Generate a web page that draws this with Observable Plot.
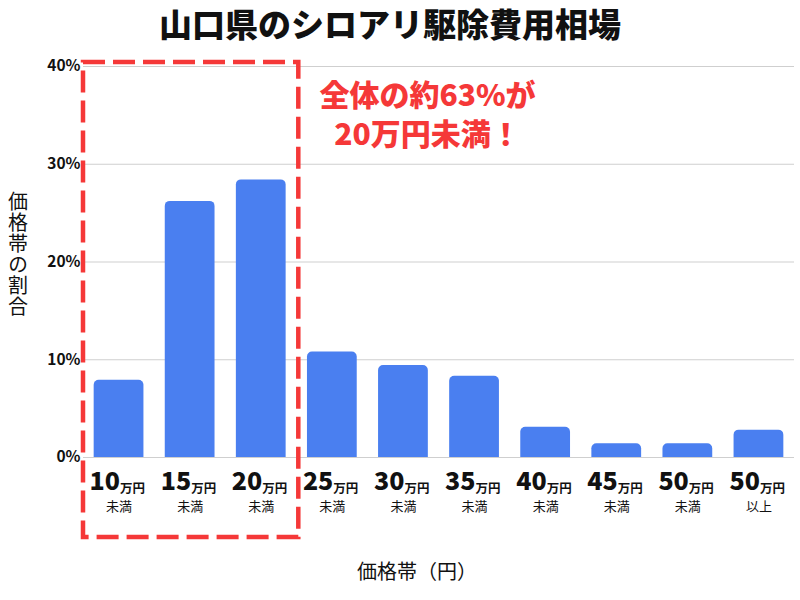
<!DOCTYPE html>
<html><head><meta charset="utf-8">
<script src="https://cdn.jsdelivr.net/npm/d3@7"></script>
<script src="https://cdn.jsdelivr.net/npm/@observablehq/plot@0.6"></script>
<style>
body{margin:0;background:#fff;font-family:"Noto Sans CJK JP","Noto Sans",sans-serif;}
#title{height:50px;line-height:46px;text-align:center;font-size:33px;font-weight:900;color:#111;padding-right:20px;}
</style></head>
<body>
<div id="title">山口県のシロアリ駆除費用相場</div>
<div id="chart"></div>
<script>
const categories = ["10万円未満","15万円未満","20万円未満","25万円未満","30万円未満","35万円未満","40万円未満","45万円未満","50万円未満","50万円以上"];
const amounts = ["10","15","20","25","30","35","40","45","50","50"];
const suffixes = ["未満","未満","未満","未満","未満","未満","未満","未満","未満","以上"];
const shares = [7.9, 26.2, 28.4, 10.8, 9.4, 8.3, 3.1, 1.4, 1.4, 2.8];
const yTicks = [0, 10, 20, 30, 40];
const highlighted = ["10万円未満","20万円未満"];
const note = [{cat: "30万円未満", value: 35.2, text: "全体の約63%が\n20万円未満！"}];
const yLabel = "価格帯の割合";
const xLabel = "価格帯（円）";

const data = categories.map((c, i) => ({cat: c, amount: amounts[i], suffix: suffixes[i], share: shares[i]}));
const font = "Noto Sans CJK JP";
const blue = "#4a7ff0";
const red = "#f53838";

const plot = Plot.plot({
  width: 800, height: 550,
  marginTop: 16, marginBottom: 143, marginLeft: 83, marginRight: 6,
  style: {fontFamily: font, background: "#fff", color: "#111"},
  x: {domain: categories, paddingInner: 0.3, paddingOuter: 0.15, round: false, axis: null},
  y: {domain: [0, 40], ticks: yTicks, axis: null},
  marks: [
    Plot.gridY(yTicks, {stroke: "#cfcfcf", strokeOpacity: 1, strokeWidth: 1.2}),
    Plot.barY(data, {x: "cat", y: "share", fill: blue, ry1: 5, rx1y1: 5, rx2y1: 5}),
    Plot.axisY(yTicks, {tickSize: 0, tickPadding: 3, tickFormat: d => d + "%", fontSize: 15.5, fontWeight: "bold", fill: "#111"}),
    Plot.text(data, {x: "cat", text: "amount", frameAnchor: "bottom", dy: 32, dx: 1, textAnchor: "end", fontSize: 25, fontWeight: 900, letterSpacing: -2, fill: "#111"}),
    Plot.text(data, {x: "cat", text: () => "万円", frameAnchor: "bottom", dy: 35, dx: 1, textAnchor: "start", fontSize: 12.5, fontWeight: "bold", fill: "#111"}),
    Plot.text(data, {x: "cat", text: "suffix", frameAnchor: "bottom", dy: 53, fontSize: 13, fill: "#111"}),
    Plot.text([xLabel], {frameAnchor: "bottom", dy: 121, dx: -22, fontSize: 20, fill: "#111"}),
    Plot.text(note, {x: "cat", y: "value", text: "text", dx: 24, fontSize: 30, fontWeight: 900, lineHeight: 1.3, fill: red})
  ]
});
document.getElementById("chart").appendChild(plot);

const xs = plot.scale("x"), ys = plot.scale("y");
// vertical y-axis title
const yMid = (ys.apply(yTicks[0]) + ys.apply(yTicks[yTicks.length - 1])) / 2;
d3.select(plot).append("text")
  .attr("x", 18).attr("y", yMid - 7)
  .attr("text-anchor", "middle")
  .attr("font-family", font).attr("font-size", 20).attr("fill", "#111")
  .style("writing-mode", "vertical-rl").style("letter-spacing", "1px")
  .text(yLabel);

// dashed highlight box derived from the plot's own scales
const gap = (xs.step - xs.bandwidth) / 2;
const bx1 = xs.apply(highlighted[0]) - gap;
const bx2 = xs.apply(highlighted[1]) + xs.bandwidth + gap + 2;
const by1 = ys.apply(yTicks[yTicks.length - 1]) - 4;
const by2 = ys.apply(yTicks[0]) + 80;
d3.select(plot).append("rect")
  .attr("x", bx1).attr("y", by1)
  .attr("width", bx2 - bx1).attr("height", by2 - by1)
  .attr("fill", "none").attr("stroke", red).attr("stroke-width", 4.5)
  .attr("stroke-dasharray", "22 8");
</script>
</body></html>
